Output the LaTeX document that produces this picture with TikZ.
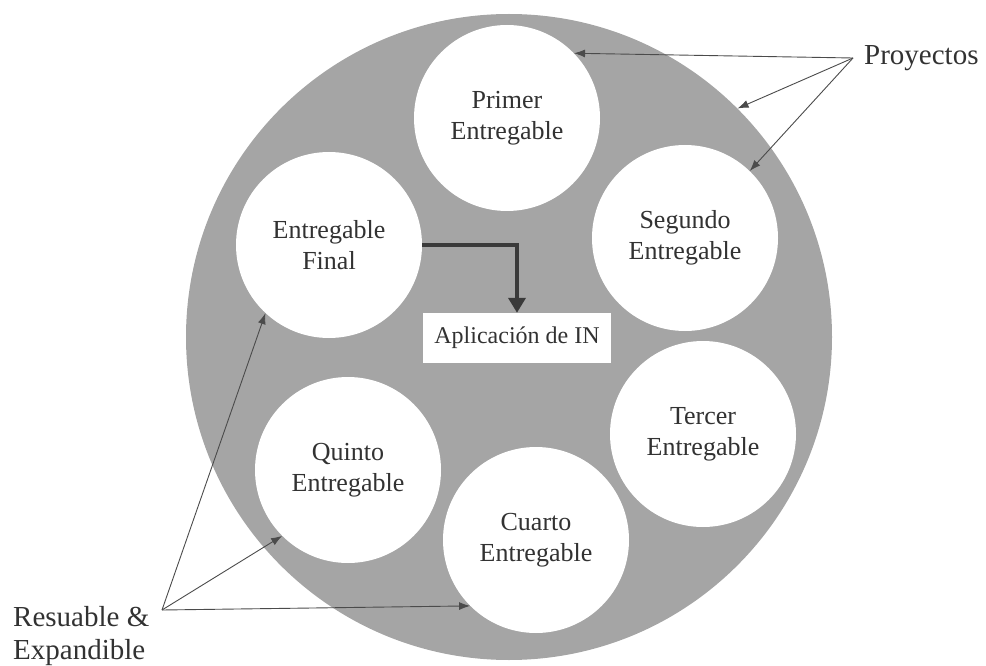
\documentclass[tikz,border=0pt]{standalone}
\usepackage{fontspec}
\setmainfont{Liberation Serif}
\usetikzlibrary{arrows.meta}
\definecolor{bggray}{RGB}{165,165,165}
\definecolor{txt}{RGB}{50,50,50}
\definecolor{arr}{RGB}{75,75,75}
\definecolor{elb}{RGB}{58,58,58}
\begin{document}
\begin{tikzpicture}[x=1pt,y=-1pt,
  disc/.style={circle,fill=white,minimum size=186pt,inner sep=0pt,align=center,text=txt,font=\fontsize{26}{31}\selectfont},
  appbox/.style={rectangle,fill=white,minimum width=188pt,minimum height=50pt,inner sep=0pt,text=txt,font=\fontsize{24}{28}\selectfont},
  outlbl/.style={inner sep=0pt,text=txt,font=\fontsize{29}{33}\selectfont},
  thinarrow/.style={draw=arr,line width=0.9pt,-{Latex[length=11pt,width=8pt]}},
  elbow/.style={draw=elb,line width=4pt,-{Triangle[length=15pt,width=17pt]}}
]
\useasboundingbox (0,0) rectangle (986,666);
\node[circle,fill=bggray,minimum size=646pt,inner sep=0pt] (big) at (509,337) {};
\node[disc] (prim) at (507,118) {Primer\\Entregable};
\node[disc] (seg) at (685,238) {Segundo\\Entregable};
\node[disc] (ter) at (703,434) {Tercer\\Entregable};
\node[disc] (cua) at (536,540) {Cuarto\\Entregable};
\node[disc] (qui) at (348,470) {Quinto\\Entregable};
\node[disc] (fin) at (329,245) {Entregable\\Final};
\node[appbox] (app) at (517,338) {Aplicación de IN};
\draw[elbow] (fin.east) -| (app.north);
\coordinate (pj) at (853,58);
\node[outlbl,anchor=base west] (proy) at (864,65) {Proyectos};
\draw[thinarrow] (pj) -- (prim.44);
\draw[thinarrow] (pj) -- (big.45);
\draw[thinarrow] (pj) -- (seg.46);
\coordinate (re) at (162,610);
\node[outlbl,anchor=base west,align=left] (res) at (13,659) {Resuable \&\\Expandible};
\draw[thinarrow] (re) -- (fin.227);
\draw[thinarrow] (re) -- (qui.225);
\draw[thinarrow] (re) -- (cua.225);
\end{tikzpicture}
\end{document}
